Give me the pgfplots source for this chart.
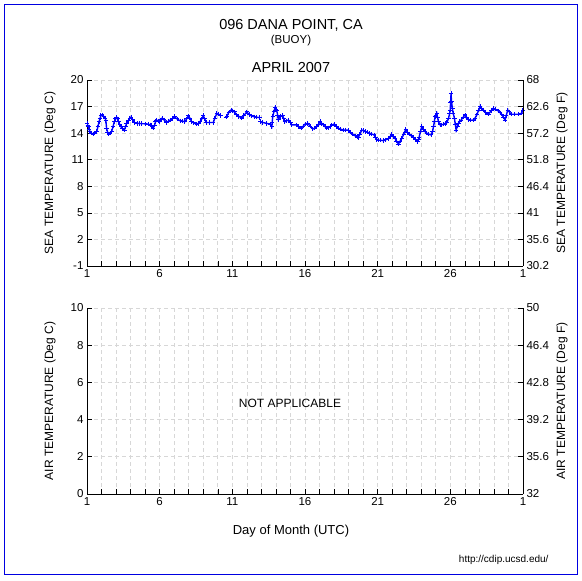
\documentclass[border=0pt]{standalone}
\usepackage{pgfplots}
\pgfplotsset{compat=1.18}
\usepackage{fontspec}
\setmainfont{Liberation Sans}
\definecolor{gridgray}{RGB}{215,215,215}
\definecolor{frameblue}{RGB}{0,0,225}
\definecolor{lineblue}{RGB}{0,0,255}

\pgfplotstableread{
day temp
1.00 15.1
1.05 14.9
1.10 14.7
1.15 14.4
1.20 14.2
1.30 14.0
1.43 13.9
1.55 14.0
1.67 14.2
1.75 14.7
1.83 15.3
1.90 15.7
1.96 16.0
2.05 16.05
2.15 15.9
2.25 15.7
2.30 15.4
2.35 14.5
2.42 14.1
2.51 13.9
2.60 14.0
2.70 14.2
2.80 14.8
2.88 15.3
2.96 15.6
3.04 15.8
3.10 15.6
3.16 15.3
3.25 15.0
3.34 14.7
3.45 14.5
3.57 14.35
3.65 14.7
3.73 15.1
3.85 15.4
3.95 15.7
4.03 15.8
4.15 15.5
4.26 15.2
4.45 15.1
4.60 15.1
4.76 15.07
5.00 15.05
5.22 15.0
5.35 14.95
5.45 14.85
5.56 14.55
5.65 14.9
5.72 15.3
5.79 15.48
5.90 15.35
6.00 15.3
6.10 15.5
6.18 15.7
6.30 15.5
6.48 15.2
6.60 15.35
6.72 15.48
6.85 15.6
7.01 15.86
7.20 15.6
7.40 15.4
7.55 15.35
7.74 15.3
7.85 15.6
7.97 15.95
8.08 15.7
8.20 15.3
8.35 15.15
8.55 15.03
8.65 15.1
8.78 15.3
8.90 15.6
9.00 15.97
9.10 15.6
9.20 15.2
9.45 15.2
9.69 15.2
9.80 15.7
9.93 16.24
10.05 16.15
10.16 16.0
10.22 16.0
10.40 nan
10.58 15.8
10.62 15.9
10.75 16.3
10.91 16.6
11.00 16.5
11.14 16.4
11.30 16.05
11.45 15.9
11.65 15.7
11.80 16.0
11.99 16.4
12.15 16.1
12.33 15.94
12.50 15.85
12.68 15.8
12.86 15.75
12.90 nan
12.95 15.3
13.10 15.2
13.37 15.1
13.60 15.03
13.71 14.73
13.74 15.2
13.78 15.86
13.86 16.4
13.94 16.88
14.00 16.7
14.05 16.6
14.12 16.0
14.17 15.5
14.28 15.86
14.47 15.97
14.55 15.6
14.62 15.3
14.75 15.4
14.86 15.48
15.00 15.2
15.09 14.92
15.40 14.92
15.55 14.75
15.73 14.55
15.88 14.8
16.00 15.03
16.20 15.1
16.35 14.8
16.53 14.47
16.65 14.55
16.81 14.73
16.92 15.0
17.04 15.3
17.15 15.1
17.27 14.92
17.40 14.7
17.50 14.55
17.60 14.6
17.73 14.73
17.85 14.9
18.00 15.03
18.15 14.8
18.30 14.55
18.45 14.45
18.64 14.35
18.80 14.35
18.98 14.35
19.10 14.1
19.29 13.87
19.45 13.7
19.58 13.6
19.68 13.53
19.78 13.9
19.91 14.35
20.00 14.3
20.14 14.17
20.30 14.1
20.47 13.98
20.60 13.9
20.75 13.8
20.85 13.5
20.94 13.23
21.05 13.2
21.20 13.2
21.39 13.15
21.55 13.25
21.74 13.4
21.85 13.6
21.97 13.87
22.08 13.6
22.20 13.4
22.30 13.1
22.43 12.77
22.55 13.1
22.66 13.4
22.80 13.9
22.93 14.43
23.05 14.1
23.16 13.87
23.30 13.7
23.46 13.53
23.60 13.3
23.73 13.06
23.80 13.3
23.85 13.53
23.95 14.2
24.03 14.73
24.15 14.4
24.26 14.17
24.38 14.0
24.49 13.9
24.67 13.8
24.78 14.2
24.84 14.73
24.90 15.3
24.95 15.86
25.00 16.0
25.07 16.24
25.12 15.8
25.18 15.3
25.30 14.92
25.42 14.95
25.53 15.0
25.65 15.1
25.76 15.18
25.88 15.7
25.95 16.2
25.99 16.61
26.02 17.5
26.05 18.49
26.08 17.6
26.14 16.8
26.20 16.2
26.28 15.7
26.34 15.0
26.40 14.35
26.48 14.8
26.55 15.1
26.65 15.3
26.74 15.48
26.88 15.8
27.01 16.05
27.12 15.8
27.24 15.5
27.40 15.45
27.59 15.48
27.70 15.7
27.82 16.05
27.95 16.6
28.05 17.0
28.15 16.8
28.28 16.6
28.45 16.3
28.62 16.13
28.80 16.5
28.96 16.8
29.10 16.7
29.30 16.5
29.42 16.3
29.54 16.13
29.65 15.8
29.77 15.48
29.85 16.0
29.95 16.6
30.05 16.4
30.20 16.13
30.40 16.13
30.68 16.13
30.90 16.24
31.00 16.6
}\seatemp

\pgfplotsset{
  panel/.style={
    scale only axis, width=436pt, height=186pt, anchor=south west,
    xmin=1, xmax=31,
    tick align=inside, major tick length=5pt, minor tick length=5pt,
    tick style={black, line width=0.6pt},
    axis line style={black, line width=0.8pt},
    ticklabel style={font=\fontsize{11.5}{13}\selectfont},
  },
  mainpanel/.style={
    panel,
    axis x line*=bottom, axis y line*=left,
    xtick={1,6,11,16,21,26,31}, xticklabels={1,6,11,16,21,26,1},
    minor xtick={2,3,4,5,7,8,9,10,12,13,14,15,17,18,19,20,22,23,24,25,27,28,29,30},
    grid=both,
    major grid style={gridgray, line width=0.7pt, dash pattern=on 4pt off 3pt},
    minor grid style={gridgray, line width=0.7pt, dash pattern=on 4pt off 3pt},
  },
  rightpanel/.style={
    panel, axis y line*=right, axis x line=none,
  },
}

\begin{document}
\begin{tikzpicture}[x=1pt,y=1pt]
\useasboundingbox (0,0) rectangle (582,581);
\draw[frameblue, line width=1pt] (4.5,6) rectangle (577,576.5);

% ---- top panel ----
\begin{axis}[mainpanel, at={(87pt,315pt)}, ymin=-1, ymax=20,
  ytick={-1,2,5,8,11,14,17,20}, yticklabels={-1,2,5,8,11,14,17,20},
  unbounded coords=jump]
\addplot[lineblue, line width=1.4pt, mark=+, mark size=2.2pt, mark options={line width=1pt}] table[x=day, y=temp] {\seatemp};
\end{axis}
\begin{axis}[rightpanel, at={(87pt,315pt)}, ymin=30.2, ymax=68,
  ytick={30.2,35.6,41,46.4,51.8,57.2,62.6,68},
  yticklabels={30.2,35.6,41,46.4,51.8,57.2,62.6,68}]
\end{axis}

% ---- bottom panel ----
\begin{axis}[mainpanel, at={(87pt,87pt)}, ymin=0, ymax=10,
  ytick={0,2,4,6,8,10}, yticklabels={0,2,4,6,8,10}]
\end{axis}
\begin{axis}[rightpanel, at={(87pt,87pt)}, ymin=32, ymax=50,
  ytick={32,35.6,39.2,42.8,46.4,50},
  yticklabels={32,35.6,39.2,42.8,46.4,50}]
\end{axis}

% ---- texts ----
\node[font=\fontsize{14.5}{16}\selectfont] at (291,556) {096 DANA POINT, CA};
\node[font=\fontsize{11.5}{13}\selectfont] at (291,540) {(BUOY)};
\node[font=\fontsize{14.5}{16}\selectfont] at (291,513) {APRIL 2007};
\node[rotate=90, font=\fontsize{12}{14}\selectfont] at (50,408) {SEA TEMPERATURE (Deg C)};
\node[rotate=90, font=\fontsize{12}{14}\selectfont] at (562,408) {SEA TEMPERATURE (Deg F)};
\node[rotate=90, font=\fontsize{12}{14}\selectfont] at (50,180) {AIR TEMPERATURE (Deg C)};
\node[rotate=90, font=\fontsize{12}{14}\selectfont] at (562,180) {AIR TEMPERATURE (Deg F)};
\node[font=\fontsize{12}{14}\selectfont] at (290,178) {NOT APPLICABLE};
\node[font=\fontsize{13}{15}\selectfont] at (291,50) {Day of Month (UTC)};
\node[anchor=east, font=\fontsize{10}{12}\selectfont] at (552,21) {http://cdip.ucsd.edu/};
\end{tikzpicture}
\end{document}
